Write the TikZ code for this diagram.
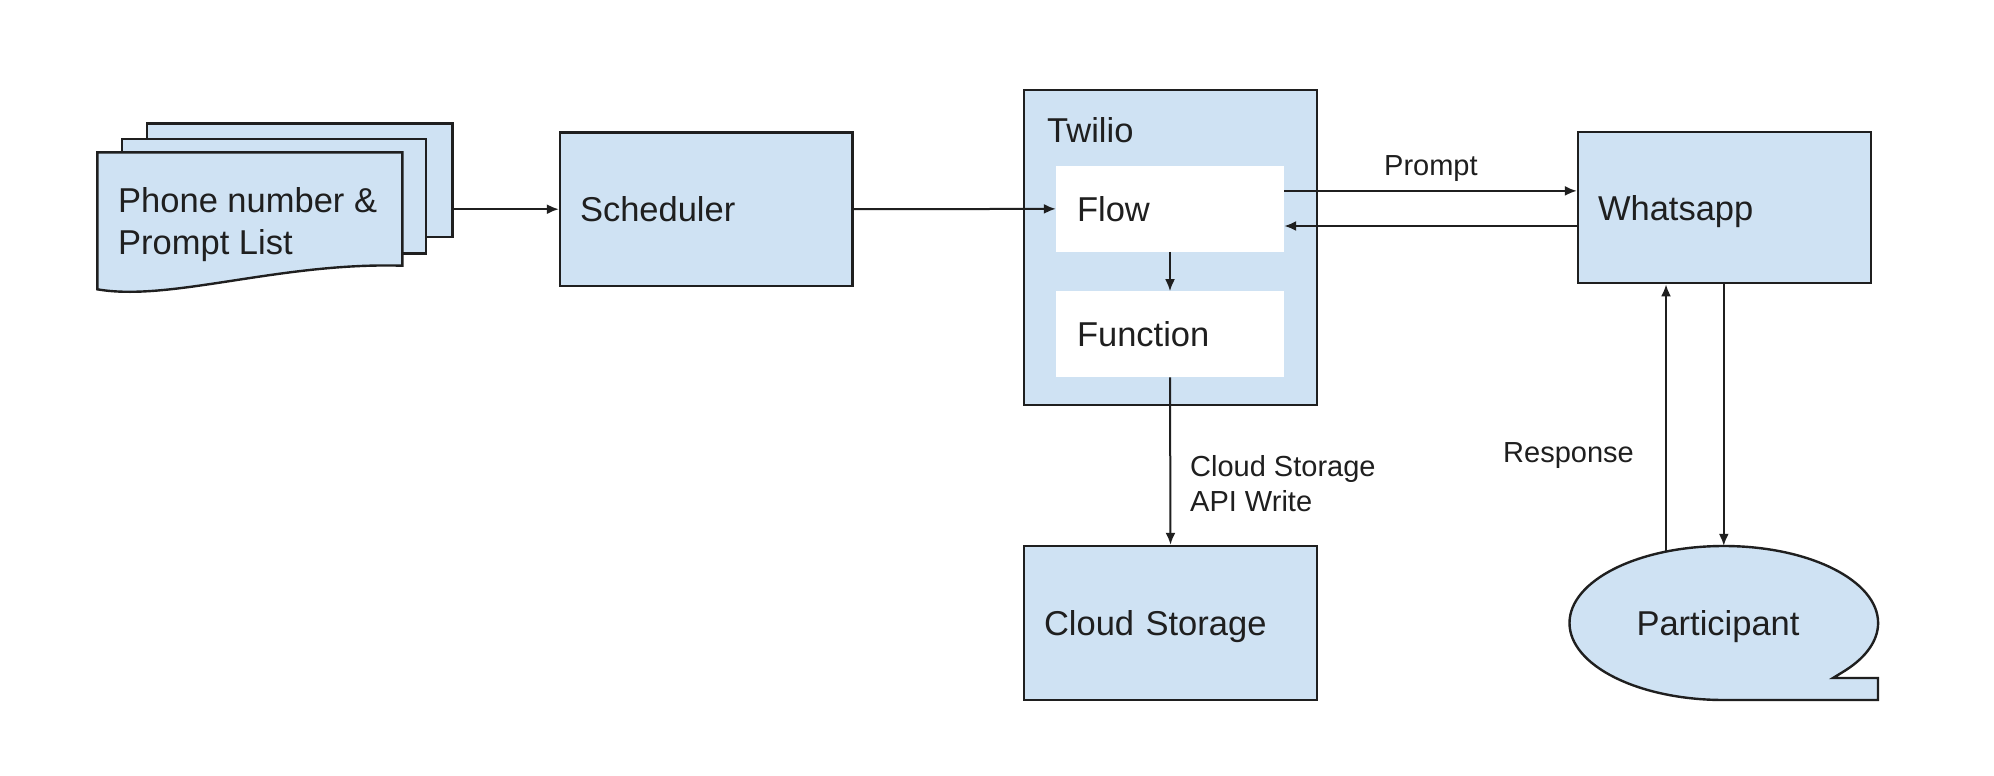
\documentclass[tikz,border=0pt]{standalone}
\usepackage{fontspec}
\setmainfont{Liberation Sans}
\usetikzlibrary{arrows.meta,shapes.geometric}
\definecolor{boxfill}{HTML}{CFE2F3}
\definecolor{ink}{HTML}{1F1F1F}
\begin{document}
\begin{tikzpicture}[x=1pt,y=-1pt,
  boxline/.style={draw=ink,line width=2.4pt,fill=boxfill},
  bigtext/.style={font=\fontsize{34.5}{42}\selectfont,text=ink},
  lbltext/.style={font=\fontsize{29}{35}\selectfont,text=ink},
  blockbox/.style={boxline,bigtext,rectangle,inner xsep=20pt,inner ysep=0pt,align=left,text height=25pt,text depth=0pt},
  innerbox/.style={fill=white,bigtext,rectangle,inner xsep=21pt,inner ysep=0pt,align=left,text height=25pt,text depth=0pt,text width=186pt,minimum height=85.7pt},
  arr/.style={draw=ink,line width=2pt,-{Latex[length=12pt,width=10pt]}},
]
\useasboundingbox (0,0) rectangle (1994,776);
\fill[white] (0,0) rectangle (1994,776);

% document stack
\node[boxline,rectangle,minimum width=305.6pt,minimum height=113.4pt,inner sep=0pt] (docback) at (299.5,180) {};
\node[boxline,rectangle,minimum width=304pt,minimum height=114.3pt,inner sep=0pt] (docmid) at (273.7,196.2) {};
\draw[boxline] (97.3,152.3) -- (402.3,152.3) -- (402.3,265.7)
  .. controls (280,262) and (170,302) .. (97.3,289.3) -- cycle;
\node[bigtext,anchor=base west,inner sep=0pt,align=left] (doctext) at (118,254) {Phone number \&\\Prompt List};

% scheduler
\node[blockbox,text width=252.4pt,minimum height=153.7pt] (sched) at (706.2,209.2) {Scheduler};

% twilio
\node[boxline,rectangle,minimum width=293pt,minimum height=315pt,inner sep=0pt] (twilio) at (1170.5,247.5) {};
\node[bigtext,anchor=base west,inner sep=0pt] (twtitle) at (1047,142.7) {Twilio};
\node[innerbox] (flow) at (1170,208.9) {Flow};
\node[innerbox] (func) at (1170,334.2) {Function};

% cloud storage
\node[blockbox,text width=253pt,minimum height=154pt] (cloud) at (1170.5,623) {Cloud Storage};

% whatsapp
\node[blockbox,text width=253pt,minimum height=151pt] (wa) at (1724.5,207.7) {Whatsapp};

% participant callout
\draw[boxline] (1723.8,700) arc[start angle=90,end angle=398,x radius=154.3,y radius=77]
  -- (1833,678) -- (1878,678) -- (1878,700) -- cycle;
\node[ellipse,minimum width=308.6pt,minimum height=154pt,inner sep=0pt] (part) at (1723.8,623) {};
\node[bigtext,inner sep=0pt,text height=25pt,text depth=0pt] (parttext) at (1718,623) {Participant};

% connectors
\draw[arr] (docback.east |- sched.west) -- (sched.west);
\draw[arr] (sched.east) -- (flow.west);
\draw[arr] (flow.south) -- (func.north);
\draw[arr] (func.south) -- (cloud.north);

\coordinate (pS) at ([yshift=18pt]flow.east);
\coordinate (pE) at (pS -| wa.west);
\draw[arr] (pS) -- (pE);
\coordinate (rS) at ([yshift=-18.3pt]wa.west);
\coordinate (rE) at (rS -| flow.east);
\draw[arr] (rS) -- (rE);

\coordinate (respS) at (1666,552);
\draw[arr] (respS) -- (respS |- wa.south);
\draw[arr] (part.north |- wa.south) -- (part.north);

% labels
\node[lbltext,anchor=base west,inner sep=0pt] (plbl) at (1384,175) {Prompt};
\node[lbltext,anchor=base west,inner sep=0pt,align=left] (cslbl) at (1190,511.7) {Cloud Storage\\API Write};
\node[lbltext,anchor=base west,inner sep=0pt] (rlbl) at (1503,462.7) {Response};
\end{tikzpicture}
\end{document}
